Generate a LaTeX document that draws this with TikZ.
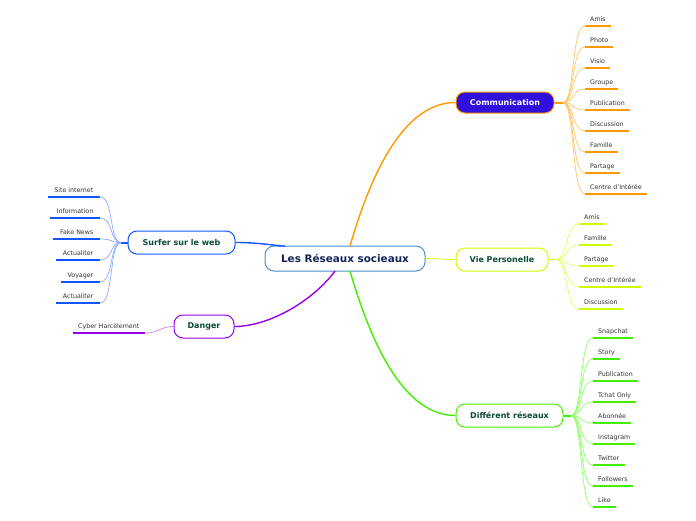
\documentclass[tikz,border=0pt]{standalone}
\usepackage{fontspec}
\setmainfont{DejaVu Sans}
\usetikzlibrary{calc}
\definecolor{corange}{HTML}{FF9900}
\definecolor{corangel}{HTML}{FFC466}
\definecolor{cblue}{HTML}{3210DC}
\definecolor{cyel}{HTML}{CCFF00}
\definecolor{cyell}{HTML}{DDFF66}
\definecolor{cgreen}{HTML}{44EE00}
\definecolor{cgreenl}{HTML}{8CFF66}
\definecolor{csurf}{HTML}{1155FF}
\definecolor{csurfl}{HTML}{88AAFF}
\definecolor{cpurp}{HTML}{9900EE}
\definecolor{cpurpl}{HTML}{CC88FF}
\definecolor{ccentral}{HTML}{4A90C8}
\definecolor{cnavy}{HTML}{14245A}
\definecolor{cdgreen}{HTML}{0E4A3A}
\definecolor{ctext}{HTML}{333333}
\tikzset{
  mainnode/.style={draw, rounded corners=9pt, line width=1pt, minimum height=23pt,
    fill=white, text=cdgreen, inner sep=0pt, font=\bfseries\fontsize{8}{9}\selectfont},
  leafR/.style={anchor=south west, text=ctext, inner xsep=5pt, inner ysep=3.2pt,
    text height=4.8pt, text depth=1.5pt, font=\fontsize{6.3}{7}\selectfont},
  leafL/.style={leafR, anchor=south east, inner xsep=6.5pt},
  uline/.style={line width=1.6pt},
  twig/.style={line width=0.7pt},
  branch/.style={line width=1.4pt},
}
\begin{document}
\begin{tikzpicture}[x=1pt,y=-1pt]
\useasboundingbox (0,0) rectangle (696,520);
% main nodes
\node[mainnode, draw=ccentral, text=cnavy, minimum width=160pt, minimum height=25pt,
  font=\bfseries\fontsize{10.4}{12}\selectfont] (central) at (345,258.5) {Les Réseaux socieaux};
\node[mainnode, draw=corange, fill=cblue, text=white, minimum width=98pt, minimum height=21pt] (comm) at (505,102.5) {Communication};
\node[mainnode, draw=cyel, minimum width=92pt] (vie) at (502,259.5) {Vie Personelle};
\node[mainnode, draw=cgreen, minimum width=107pt] (diff) at (509.5,415.5) {Différent réseaux};
\node[mainnode, draw=csurf, minimum width=107pt] (surf) at (181.5,242.5) {Surfer sur le web};
\node[mainnode, draw=cpurp, minimum width=60pt] (dang) at (204,326.5) {Danger};
% branches
\coordinate (cc1) at (350,246);
\coordinate (cc2) at (350,271);
\coordinate (cc3) at (285,246.2);
\coordinate (cc4) at (335,271);
\draw[branch,corange] (cc1) .. controls (372,170) and (405,102.5) .. (comm.west);
\draw[branch,cgreen] (cc2) .. controls (372,347) and (405,415.5) .. (diff.west);
\draw[line width=0.8pt,cyel] (central.east) -- (vie.west);
\draw[branch,csurf] (surf.east) .. controls (258,242.5) and (270,245) .. (cc3);
\draw[branch,cpurp] (cc4) .. controls (312,302) and (268,326.5) .. (dang.east);
% hubs
\coordinate (hc) at (563,102.5);
\coordinate (hv) at (556,259.5);
\coordinate (hd) at (571,415.5);
\coordinate (hs) at (121,242.5);
\draw[line width=2pt,corange] (comm.east) -- (hc);
\draw[line width=1.5pt,cyel] (vie.east) -- (hv);
\draw[line width=2pt,cgreen] (diff.east) -- (hd);
\draw[line width=2pt,csurf] (surf.west) -- (hs);
% Communication leaves
\foreach \t/\y [count=\i from 0] in {Amis/26,Photo/47,Visio/68,Groupe/89,Publication/110,Discussion/131,Famille/152,Partage/173,Centre d'Intérée/194}{
  \node[leafR] (c\i) at (585,\y) {\t};
  \draw[uline,corange] (c\i.south west) -- (c\i.south east);
  \draw[twig,corangel] (hc) .. controls ($(hc)+(12,0)$) and ($(c\i.south west)+(-14,0)$) .. (c\i.south west);
}
% Vie leaves
\foreach \t/\y [count=\i from 0] in {Amis/224,Famille/245,Partage/266,Centre d'Intérée/287,Discussion/309}{
  \node[leafR] (v\i) at (579,\y) {\t};
  \draw[uline,cyel] (v\i.south west) -- (v\i.south east);
  \draw[twig,cyell] (hv) .. controls ($(hv)+(12,0)$) and ($(v\i.south west)+(-14,0)$) .. (v\i.south west);
}
% Different leaves
\foreach \t/\y [count=\i from 0] in {Snapchat/338,Story/359,Publication/381,Tchat Only/402,Abonnée/423,Instagram/444,Twitter/465,Followers/486,Like/507}{
  \node[leafR] (d\i) at (593,\y) {\t};
  \draw[uline,cgreen] (d\i.south west) -- (d\i.south east);
  \draw[twig,cgreenl] (hd) .. controls ($(hd)+(12,0)$) and ($(d\i.south west)+(-14,0)$) .. (d\i.south west);
}
% Surfer leaves
\foreach \t/\y [count=\i from 0] in {Site internet/197,Information/218,Fake News/239,Actualiter/260,Voyager/282,Actualiter/303}{
  \node[leafL] (s\i) at (100,\y) {\t};
  \draw[uline,csurf] (s\i.south west) -- (s\i.south east);
  \draw[twig,csurfl] (hs) .. controls ($(hs)+(-12,0)$) and ($(s\i.south east)+(14,0)$) .. (s\i.south east);
}
% Danger leaf
\node[leafL, inner xsep=5.5pt] (k0) at (145,333) {Cyber Harcèlement};
\draw[uline,cpurp] (k0.south west) -- (k0.south east);
\draw[line width=0.8pt,cpurpl] (dang.west) .. controls (160,326.5) and (159,333) .. (k0.south east);
\end{tikzpicture}
\end{document}
